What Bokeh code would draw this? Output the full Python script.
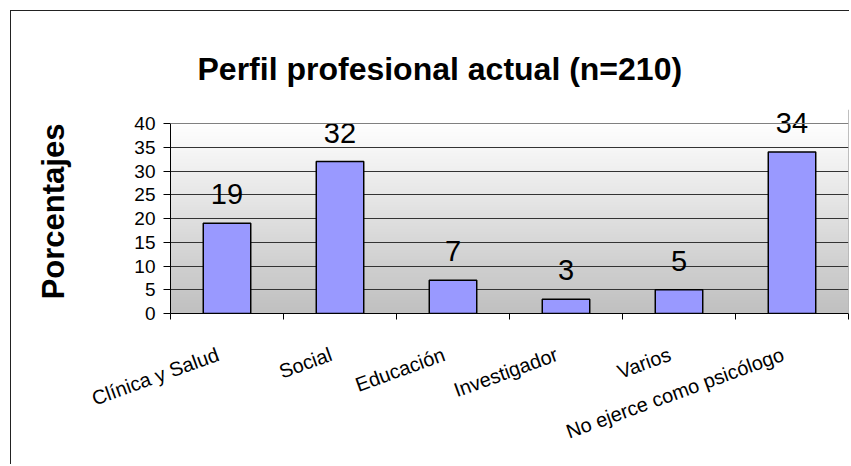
import numpy as np
from bokeh.plotting import figure
from bokeh.models import ColumnDataSource, LabelSet, Range1d, FixedTicker, LinearAxis, Span
from bokeh.core.properties import value
from bokeh.embed import file_html
from bokeh.resources import INLINE

# ---- data ----
categories = ["Clínica y Salud", "Social", "Educación", "Investigador", "Varios",
              "No ejerce como psicólogo"]
values = [19, 32, 7, 3, 5, 34]
y_ticks = [0, 5, 10, 15, 20, 25, 30, 35, 40]
title_text = "Perfil profesional actual (n=210)"
y_label = "Porcentajes"

FONT = "Liberation Sans"
n = len(categories)
idx = list(range(n))
y_lo, y_hi = y_ticks[0], y_ticks[-1]
# a little head-room above the axis so the value labels are not clipped
y_view = y_hi * 204 / 190
# category labels sit slightly left of the category centre
lab_shift = 9 / 113

p = figure(width=839, height=454, output_backend="svg", toolbar_location=None,
           x_range=Range1d(-0.5, n - 0.5), y_range=Range1d(y_lo, y_view),
           min_border_left=159, min_border_right=2, min_border_top=98, min_border_bottom=152)
p.styles = {"margin-left": "10px", "margin-top": "10px",
            "border-left": "1px solid #222", "border-top": "1px solid #222"}
p.extra_x_ranges = {"lab": Range1d(-0.5 + lab_shift, n - 0.5 + lab_shift)}

# gradient background of the plot area (styling only)
rows = 120
g = np.linspace(192, 255, rows).astype(np.uint32)
img = np.empty((rows, 1), dtype=np.uint32)
view = img.view(dtype=np.uint8).reshape((rows, 1, 4))
view[:, 0, 0] = g
view[:, 0, 1] = g
view[:, 0, 2] = g
view[:, 0, 3] = 255
bg = p.image_rgba(image=[img], x=-0.5, y=y_lo, dw=n, dh=y_hi - y_lo)
bg.level = "image"

src = ColumnDataSource(dict(x=idx, top=values, label=[str(v) for v in values]))
p.vbar(x="x", top="top", bottom=0, width=0.42, source=src,
       fill_color="#9999FF", line_color="black", line_width=1.5)

labels = LabelSet(x="x", y="top", text="label", source=src, text_align="center",
                  text_baseline="alphabetic", y_offset=19, text_font=value(FONT),
                  text_font_size=value("29px"), text_color="black")
p.add_layout(labels)

# top and right edges of the plot area
p.add_layout(Span(location=y_hi, dimension="width", line_color="#808080", line_width=1))
p.add_layout(Span(location=n - 0.5, dimension="height", line_color="#808080", line_width=1))

# title
p.title.text = title_text
p.title.text_font = FONT
p.title.text_font_size = "32px"
p.title.text_font_style = "bold"
p.title.text_color = "black"
p.title.align = "left"
p.title.offset = 27
p.title.standoff = 45

# x axis: tick marks between categories
xa = p.xaxis[0]
xa.ticker = FixedTicker(ticks=idx, minor_ticks=[i - 0.5 for i in range(n + 1)])
xa.major_label_overrides = {i: "" for i in idx}
xa.major_label_text_font_size = "0px"
xa.major_label_standoff = 0
xa.major_tick_line_color = None
xa.minor_tick_line_color = "black"
xa.minor_tick_in = 0
xa.minor_tick_out = 6
xa.axis_line_color = "black"

# x axis: category names
la = LinearAxis(x_range_name="lab", ticker=FixedTicker(ticks=idx, minor_ticks=[]),
                major_label_overrides={i: c for i, c in zip(idx, categories)},
                axis_line_color=None, major_tick_line_color=None, minor_tick_line_color=None,
                major_label_orientation=0.349, major_label_text_font=FONT,
                major_label_text_font_size="20px", major_label_text_color="black",
                major_label_standoff=28)
p.add_layout(la, "below")

ya = p.yaxis[0]
ya.bounds = (y_lo, y_hi)
ya.ticker = FixedTicker(ticks=y_ticks, minor_ticks=[])
ya.major_tick_in = 0
ya.major_tick_out = 7
ya.major_tick_line_color = "black"
ya.major_label_text_font = FONT
ya.major_label_text_font_size = "19px"
ya.major_label_text_color = "black"
ya.major_label_standoff = 8
ya.axis_line_color = "black"
ya.axis_label = y_label
ya.axis_label_text_font = FONT
ya.axis_label_text_font_size = "31px"
ya.axis_label_text_font_style = "bold"
ya.axis_label_text_color = "black"
ya.axis_label_standoff = 60

p.xgrid.visible = False
p.ygrid.ticker = FixedTicker(ticks=y_ticks[1:-1])
p.ygrid.grid_line_color = "#333333"
p.ygrid.grid_line_width = 1

p.outline_line_color = None
p.background_fill_color = "white"
p.border_fill_color = "white"

open("out.html", "w").write(file_html(p, INLINE))
